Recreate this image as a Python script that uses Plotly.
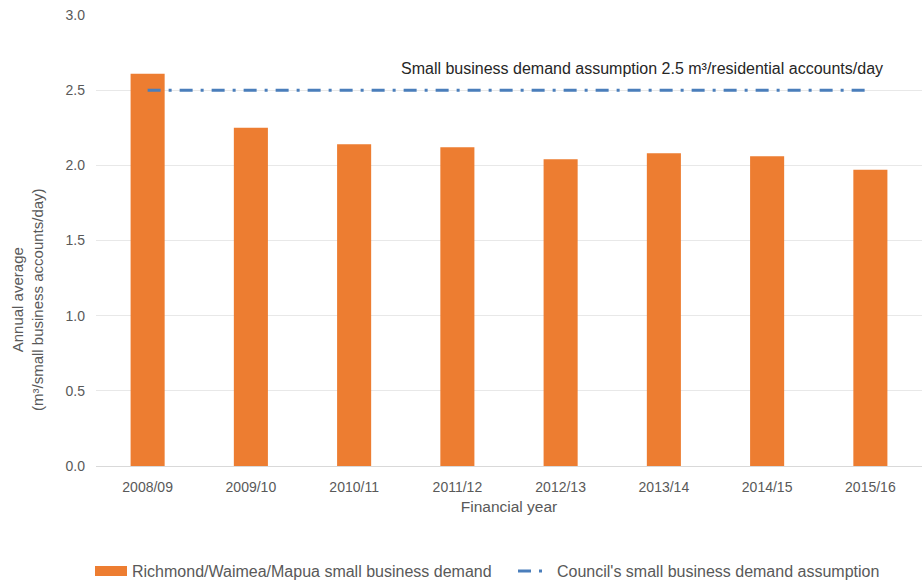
import plotly.graph_objects as go

# Financial years and annual average small business demand (m³/account/day)
years = ["2008/09", "2009/10", "2010/11", "2011/12", "2012/13", "2013/14", "2014/15", "2015/16"]
demand = [2.61, 2.25, 2.14, 2.12, 2.04, 2.08, 2.06, 1.97]
assumption = [2.5] * len(years)

bar_name = "Richmond/Waimea/Mapua small business demand"
line_name = "Council's small business demand assumption"

ORANGE = "#ED7D31"
BLUE = "#4A7EBB"
GREY = "#595959"
FONT = "Liberation Sans, Arial, sans-serif"

W, H = 922, 586
L, R, T, B = 96, 0, 15, 120
PW, PH = W - L - R, H - T - B


def px_x(px):
    return (px - L) / PW


def px_y(py):
    return (H - B - py) / PH


fig = go.Figure()

fig.add_trace(go.Bar(
    x=years, y=demand, name=bar_name,
    marker=dict(color=ORANGE, line=dict(width=0)),
    showlegend=False,
))

line_dash = "13px,8px,3px,8px"
fig.add_trace(go.Scatter(
    x=years, y=assumption, mode="lines", name=line_name,
    line=dict(color=BLUE, width=3, dash=line_dash),
    showlegend=False,
))

fig.add_annotation(
    x=1.0, xref="paper", xanchor="right", xshift=-37,
    y=2.5, yref="y", yanchor="middle", yshift=22,
    text="Small business demand assumption 2.5 m³/residential accounts/day",
    showarrow=False,
    font=dict(family=FONT, size=16, color="#262626"),
)

# Y axis title, placed a little below the middle of the plot
fig.add_annotation(
    x=px_x(27), y=px_y(300), xref="paper", yref="paper",
    xanchor="center", yanchor="middle", showarrow=False, textangle=-90,
    text="Annual average<br>(m³/small business accounts/day)",
    font=dict(family=FONT, size=15, color=GREY),
)

# Legend drawn below the axis title
leg_y = px_y(571)
fig.add_shape(type="rect", xref="paper", yref="paper",
              x0=px_x(95), x1=px_x(127), y0=px_y(576), y1=px_y(566),
              fillcolor=ORANGE, line=dict(width=0))
fig.add_annotation(x=px_x(130), y=leg_y, xref="paper", yref="paper",
                   xanchor="left", yanchor="middle", showarrow=False,
                   text=bar_name, font=dict(family=FONT, size=16, color=GREY))
fig.add_shape(type="line", xref="paper", yref="paper",
              x0=px_x(518), x1=px_x(543), y0=leg_y, y1=leg_y,
              line=dict(color=BLUE, width=3, dash=line_dash))
fig.add_annotation(x=px_x(555), y=leg_y, xref="paper", yref="paper",
                   xanchor="left", yanchor="middle", showarrow=False,
                   text=line_name, font=dict(family=FONT, size=16, color=GREY))

fig.update_layout(
    width=W, height=H,
    margin=dict(l=L, r=R, t=T, b=B, autoexpand=False),
    paper_bgcolor="white", plot_bgcolor="white",
    font=dict(family=FONT, size=14, color=GREY),
    bargap=0.67,
    showlegend=False,
    xaxis=dict(
        title=dict(text="Financial year", font=dict(size=15.5, color=GREY), standoff=7),
        showgrid=False, showline=False, ticks="",
        tickfont=dict(size=14, color=GREY),
        ticklabelstandoff=11,
    ),
    yaxis=dict(
        range=[0, 3.0], dtick=0.5, tickformat=".1f",
        showgrid=True, gridcolor="#E8E8E8", gridwidth=1,
        zeroline=True, zerolinecolor="#D9D9D9", zerolinewidth=1,
        showline=False, ticks="",
        tickfont=dict(size=14, color=GREY),
        ticklabelstandoff=10,
    ),
)

fig.write_html("out.html")
